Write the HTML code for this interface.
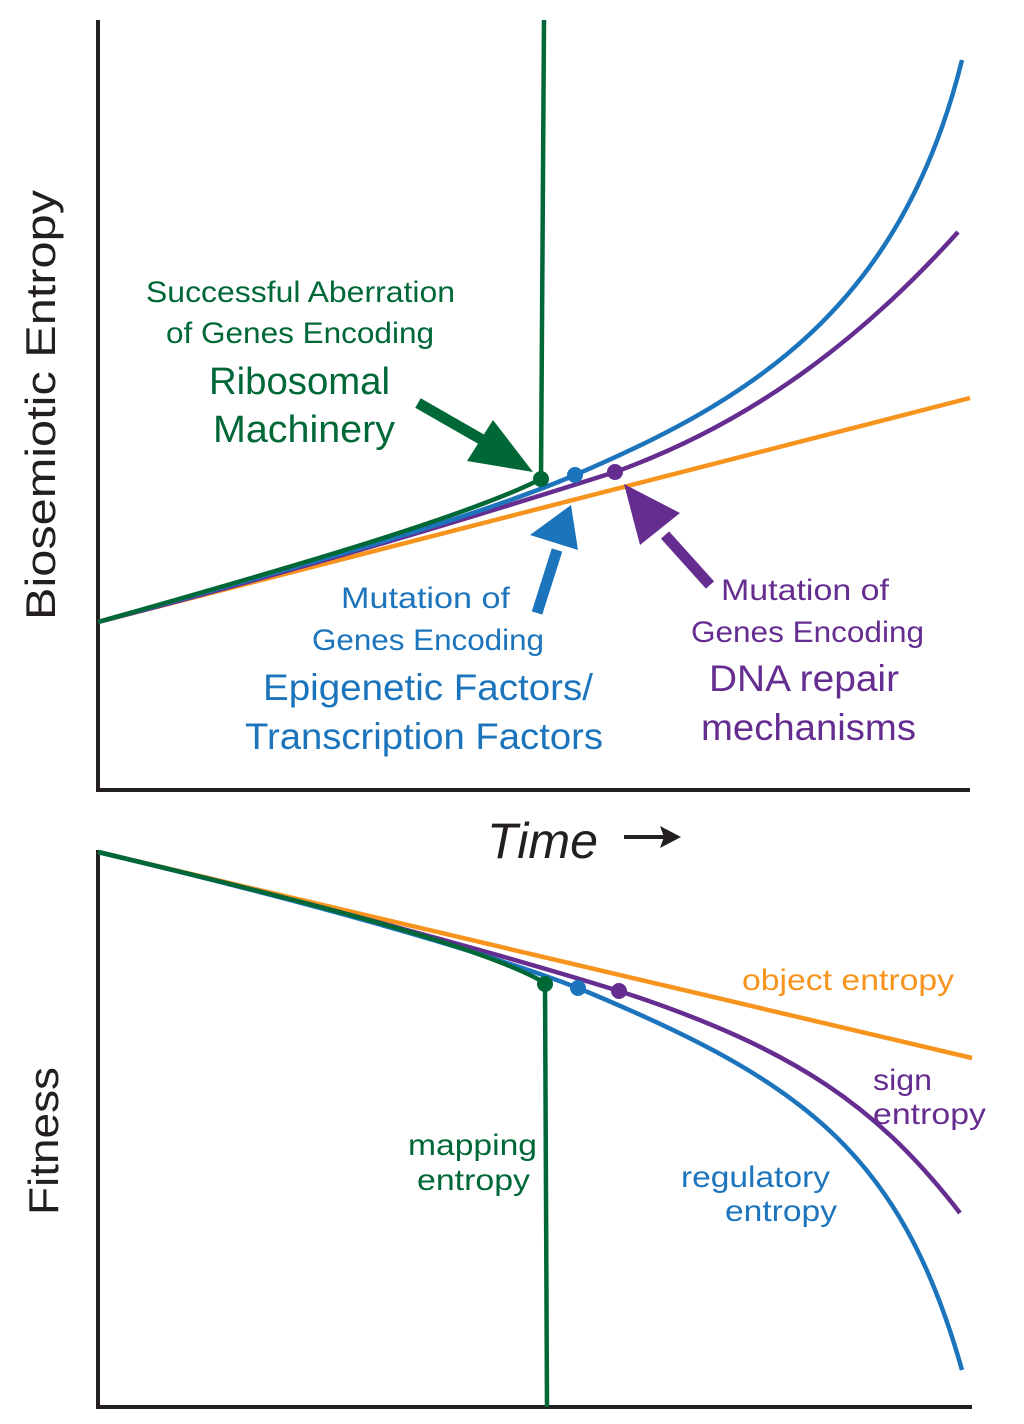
<!DOCTYPE html>
<html><head><meta charset="utf-8"><style>html,body{margin:0;padding:0;background:#fff}svg{display:block}text{font-family:"Liberation Sans",sans-serif}</style></head>
<body>
<svg width="1024" height="1424" viewBox="0 0 1024 1424" xmlns="http://www.w3.org/2000/svg">
<g fill="none" stroke-linecap="butt">
<!-- axes -->
<path d="M98 20 V790 H970" stroke="#231f20" stroke-width="4"/>
<path d="M98 850 V1407 H972" stroke="#231f20" stroke-width="4"/>
<!-- top curves -->
<path d="M98 622 L970 398" stroke="#f7941d" stroke-width="4.5"/>
<path d="M98 622 C300 570 480 515 615 472 C760 420 870 330 958 232" stroke="#662d91" stroke-width="4.5"/>
<path d="M98 622 C300 566 470 520 575 475 C750 400 900 310 962 60" stroke="#1c75bc" stroke-width="4.5"/>
<path d="M98 622 C300 565 470 515 541 479 L544 20" stroke="#006837" stroke-width="4.5"/>
<!-- bottom curves -->
<path d="M98 852 L972 1058" stroke="#f7941d" stroke-width="4.5"/>
<path d="M98 852 C300 900 470 945 619 991 C800 1050 880 1110 960 1213" stroke="#662d91" stroke-width="4.5"/>
<path d="M98 852 C300 900 480 950 578 988 C800 1080 900 1150 962 1370" stroke="#1c75bc" stroke-width="4.5"/>
<path d="M98 852 C300 900 480 945 545 983 L547 1407" stroke="#006837" stroke-width="4.5"/>
<!-- arrow shafts -->
<path d="M418 403 L500 450" stroke="#006837" stroke-width="11"/>
<path d="M537 613 L557 550" stroke="#1c75bc" stroke-width="11"/>
<path d="M710 585 L665 535" stroke="#662d91" stroke-width="11"/>
</g>
<!-- arrowheads -->
<polygon points="533,472 493,420 467,461" fill="#006837"/>
<polygon points="571,505 530,535 578,550" fill="#1c75bc"/>
<polygon points="624,484 640,545 680,513" fill="#662d91"/>
<!-- dots -->
<circle cx="541" cy="479" r="8" fill="#006837"/><circle cx="575" cy="475" r="8" fill="#1c75bc"/><circle cx="615" cy="472" r="8" fill="#662d91"/>
<circle cx="545" cy="984" r="8" fill="#006837"/><circle cx="578" cy="988" r="8" fill="#1c75bc"/><circle cx="619" cy="991" r="8" fill="#662d91"/>
<!-- axis labels -->
<text transform="translate(55,405) rotate(-90)" text-anchor="middle" font-size="42" fill="#231f20" textLength="430" lengthAdjust="spacingAndGlyphs">Biosemiotic Entropy</text>
<text transform="translate(58,1141) rotate(-90)" text-anchor="middle" font-size="42" fill="#231f20" textLength="148" lengthAdjust="spacingAndGlyphs">Fitness</text>
<text x="487" y="858" font-size="50" font-style="italic" fill="#231f20" textLength="111" lengthAdjust="spacingAndGlyphs">Time</text>
<path d="M624 837 H672" stroke="#231f20" stroke-width="4"/><polygon points="681,837 660,826 664,837 660,848" fill="#231f20"/>
<!-- green label -->
<g fill="#006837">
<text x="146" y="302" font-size="30" textLength="309" lengthAdjust="spacingAndGlyphs">Successful Aberration</text>
<text x="166" y="343" font-size="30" textLength="268" lengthAdjust="spacingAndGlyphs">of Genes Encoding</text>
<text x="209" y="394" font-size="38" textLength="181" lengthAdjust="spacingAndGlyphs">Ribosomal</text>
<text x="213" y="442" font-size="38" textLength="182" lengthAdjust="spacingAndGlyphs">Machinery</text>
<text x="408" y="1155" font-size="30" textLength="129" lengthAdjust="spacingAndGlyphs">mapping</text>
<text x="417" y="1190" font-size="30" textLength="113" lengthAdjust="spacingAndGlyphs">entropy</text>
</g>
<g fill="#1c75bc">
<text x="341" y="608" font-size="30" textLength="169" lengthAdjust="spacingAndGlyphs">Mutation of</text>
<text x="312" y="650" font-size="30" textLength="232" lengthAdjust="spacingAndGlyphs">Genes Encoding</text>
<text x="263" y="700" font-size="37" textLength="330" lengthAdjust="spacingAndGlyphs">Epigenetic Factors/</text>
<text x="245" y="749" font-size="37" textLength="358" lengthAdjust="spacingAndGlyphs">Transcription Factors</text>
<text x="681" y="1187" font-size="30" textLength="149" lengthAdjust="spacingAndGlyphs">regulatory</text>
<text x="725" y="1221" font-size="30" textLength="112" lengthAdjust="spacingAndGlyphs">entropy</text>
</g>
<g fill="#662d91">
<text x="721" y="600" font-size="30" textLength="168" lengthAdjust="spacingAndGlyphs">Mutation of</text>
<text x="691" y="642" font-size="30" textLength="233" lengthAdjust="spacingAndGlyphs">Genes Encoding</text>
<text x="709" y="691" font-size="37" textLength="190" lengthAdjust="spacingAndGlyphs">DNA repair</text>
<text x="701" y="740" font-size="37" textLength="215" lengthAdjust="spacingAndGlyphs">mechanisms</text>
<text x="873" y="1090" font-size="30" textLength="59" lengthAdjust="spacingAndGlyphs">sign</text>
<text x="873" y="1124" font-size="30" textLength="113" lengthAdjust="spacingAndGlyphs">entropy</text>
</g>
<text x="742" y="990" font-size="30" fill="#f7941d" textLength="212" lengthAdjust="spacingAndGlyphs">object entropy</text>
</svg>
</body></html>
